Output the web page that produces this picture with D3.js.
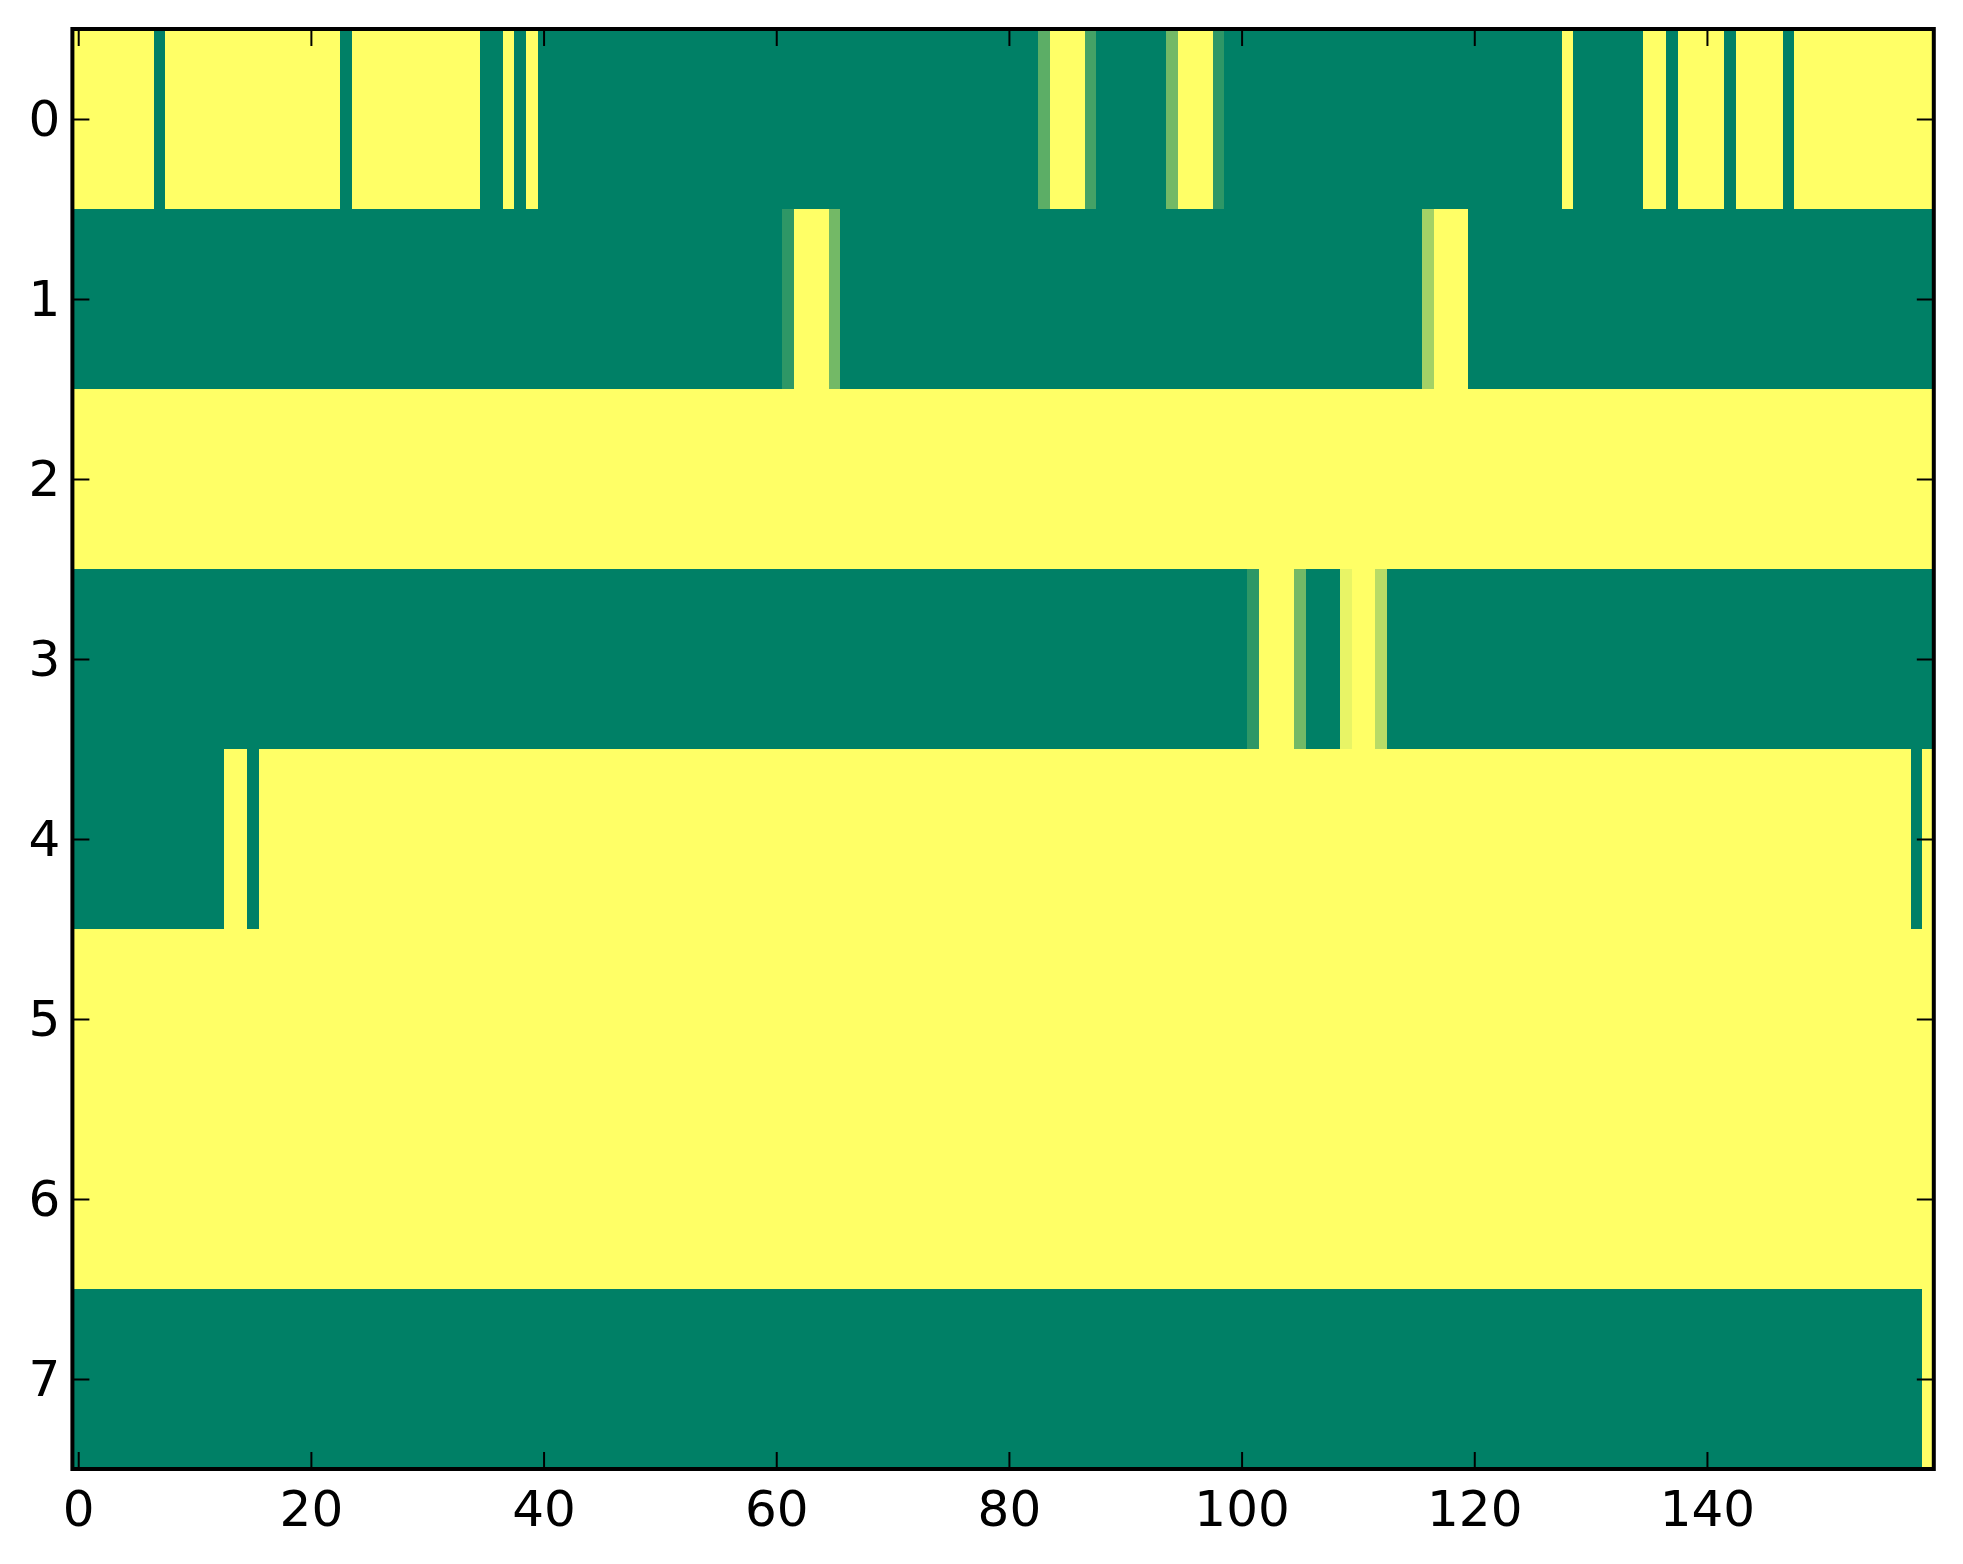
<!DOCTYPE html>
<html>
<head>
<meta charset="utf-8">
<script src="https://cdn.jsdelivr.net/npm/d3@7"></script>
<style>
  body { margin: 0; background: #fff; }
  .tick text { font-family: "DejaVu Sans", sans-serif; font-size: 50px; fill: #000; }
  .tick line { stroke: #000; stroke-width: 2; }
</style>
</head>
<body>
<div id="heatmap"></div>
<script>
// 1: DATA - each row as [value, run length] pairs, read left to right (160 columns)
const row0 = [[1,7],[0,1],[1,15],[0,1],[1,11],[0,2],[1,1],[0,1],[1,1],[0,43],
              [0.36,1],[1,3],[0.27,1],[0,6],[0.45,1],[1,3],[0.18,1],[0,29],
              [1,1],[0,6],[1,2],[0,1],[1,4],[0,1],[1,4],[0,1],[1,12]];
const row1 = [[0,61],[0.18,1],[1,3],[0.45,1],[0,50],[0.64,1],[1,3],[0,40]];
const row2 = [[1,160]];
const row3 = [[0,101],[0.18,1],[1,3],[0.45,1],[0,3],[0.91,1],[1,2],[0.72,1],[0,47]];
const row4 = [[0,13],[1,2],[0,1],[1,142],[0,1],[1,1]];
const row5 = [[1,160]];
const row6 = [[1,160]];
const row7 = [[0,159],[1,1]];
const rows = [row0, row1, row2, row3, row4, row5, row6, row7];

const nCols = 160;
const xTickValues = [0, 20, 40, 60, 80, 100, 120, 140];
const yTickValues = [0, 1, 2, 3, 4, 5, 6, 7];

// expand the runs into one cell per column
const cells = [];
rows.forEach((runs, r) => {
    let c = 0;
    runs.forEach(([v, n]) => {
        for (let i = 0; i < n; i++) {
            cells.push({ row: r, col: c, value: v });
            c++;
        }
    });
});

// 2: LAYOUT
const svgWidth = 1963, svgHeight = 1564;
const plot = { left: 72.4, right: 1933.8, top: 29, bottom: 1469 };
const tickLen = 17;

const svg = d3.select("#heatmap")
    .append("svg")
    .attr("width", svgWidth)
    .attr("height", svgHeight);

// 3: SCALES
const x = d3.scaleLinear()
    .domain([-0.5, nCols - 0.5])
    .range([plot.left, plot.right]);

const y = d3.scaleLinear()
    .domain([-0.5, rows.length - 0.5])
    .range([plot.top, plot.bottom]);

// matplotlib "summer" colormap
const color = d3.scaleLinear()
    .domain([0, 1])
    .range(["#008066", "#ffff66"])
    .interpolate(d3.interpolateRgb);

// 4: CELLS
svg.append("g")
    .attr("shape-rendering", "crispEdges")
    .selectAll("rect")
    .data(cells)
    .enter()
    .append("rect")
    .attr("x", d => x(d.col - 0.5))
    .attr("y", d => y(d.row - 0.5))
    .attr("width", d => x(d.col + 0.5) - x(d.col - 0.5))
    .attr("height", d => y(d.row + 0.5) - y(d.row - 0.5))
    .attr("fill", d => color(d.value));

// 5: AXES (ticks point inward, mirrored on top and right)
const xBottom = svg.append("g")
    .attr("transform", `translate(0,${plot.bottom})`)
    .call(d3.axisBottom(x).tickValues(xTickValues)
        .tickSizeInner(-tickLen).tickSizeOuter(0).tickPadding(21));

const xTop = svg.append("g")
    .attr("transform", `translate(0,${plot.top})`)
    .call(d3.axisTop(x).tickValues(xTickValues)
        .tickSizeInner(-tickLen).tickSizeOuter(0).tickFormat(""));

const yLeft = svg.append("g")
    .attr("transform", `translate(${plot.left},0)`)
    .call(d3.axisLeft(y).tickValues(yTickValues)
        .tickSizeInner(-tickLen).tickSizeOuter(0).tickPadding(12));

const yRight = svg.append("g")
    .attr("transform", `translate(${plot.right},0)`)
    .call(d3.axisRight(y).tickValues(yTickValues)
        .tickSizeInner(-tickLen).tickSizeOuter(0).tickFormat(""));

[xBottom, xTop, yLeft, yRight].forEach(g => g.select(".domain").remove());

// frame
svg.append("rect")
    .attr("x", plot.left)
    .attr("y", plot.top)
    .attr("width", plot.right - plot.left)
    .attr("height", plot.bottom - plot.top)
    .attr("fill", "none")
    .attr("stroke", "#000")
    .attr("stroke-width", 4);
</script>
</body>
</html>
